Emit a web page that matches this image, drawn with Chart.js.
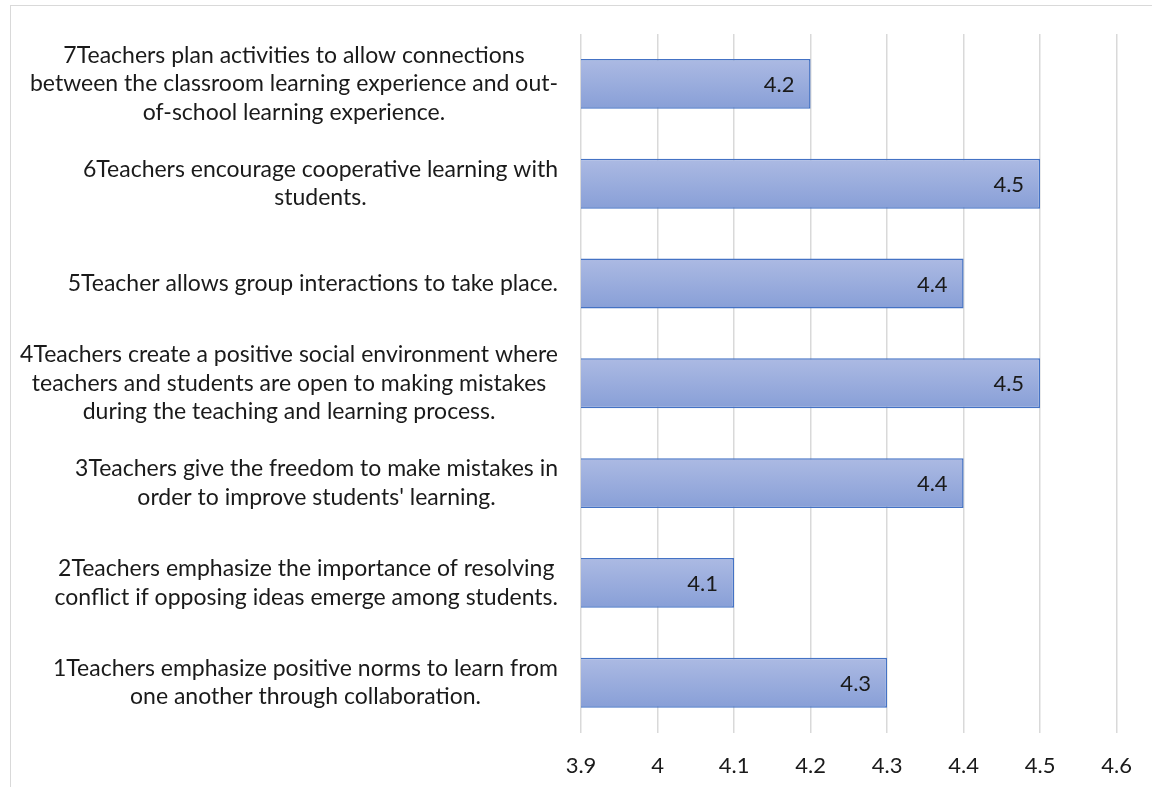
<!DOCTYPE html>
<html lang="en">
<head>
    <meta charset="UTF-8">
    <title>Teacher practices</title>
    <script src="https://cdn.jsdelivr.net/npm/chart.js"></script>
    <style>
        html, body {
            margin: 0;
            padding: 0;
            background: #fff;
            overflow: hidden;
        }
        .frame {
            position: absolute;
            left: 10px;
            top: 5px;
            width: 1300px;
            height: 900px;
            border: 1px solid #d9d9d9;
        }
        .wrap {
            position: absolute;
            left: 0;
            top: 0;
            width: 1152px;
            height: 787px;
        }
    </style>
</head>
<body>
    <div class="frame"></div>
    <div class="wrap"><canvas id="chart"></canvas></div>

    <script>
        // categories, top to bottom as shown
        const categories = [
            ['7Teachers plan activities to allow connections', 'between the classroom learning experience and out-', 'of-school learning experience.'],
            ['6Teachers encourage cooperative learning with', 'students.'],
            ['5Teacher allows group interactions to take place.'],
            ['4Teachers create a positive social environment where', 'teachers and students are open to making mistakes', 'during the teaching and learning process.'],
            ['3Teachers give the freedom to make mistakes in', 'order to improve students\' learning.'],
            ['2Teachers emphasize the importance of resolving', 'conflict if opposing ideas emerge among students.'],
            ['1Teachers emphasize positive norms to learn from', 'one another through collaboration.']
        ];
        const values = [4.2, 4.5, 4.4, 4.5, 4.4, 4.1, 4.3];
        const axisMin = 3.9;
        const axisMax = 4.6;
        const axisStep = 0.1;

        const FONT = 'Lato';
        const textColor = '#1a1a1a';

        // gradient per bar, top light to bottom darker
        function barFill(ctx) {
            const chart = ctx.chart;
            const ys = chart.scales.y;
            if (!ys || ctx.dataIndex == null) return '#9aaddd';
            const c = ys.getPixelForValue(ctx.dataIndex);
            const half = ys.height / categories.length / 4;
            if (!isFinite(c) || !isFinite(half)) return '#9aaddd';
            const g = chart.ctx.createLinearGradient(0, c - half, 0, c + half);
            g.addColorStop(0, '#acbae3');
            g.addColorStop(1, '#889fd7');
            return g;
        }

        // category labels: block right-aligned, lines centred inside block
        const categoryLabels = {
            id: 'categoryLabels',
            afterDraw(chart) {
                const ctx = chart.ctx;
                const ys = chart.scales.y;
                const right = chart.chartArea.left - 23;
                const lineH = 28.5;
                ctx.save();
                ctx.font = '23px ' + FONT;
                ctx.fillStyle = textColor;
                ctx.textAlign = 'center';
                ctx.textBaseline = 'middle';
                categories.forEach((lines, i) => {
                    const w = Math.max(...lines.map(l => ctx.measureText(l).width));
                    const cx = right - w / 2;
                    const cy = ys.getPixelForValue(i);
                    const top = cy - (lines.length - 1) * lineH / 2;
                    lines.forEach((l, k) => ctx.fillText(l, cx, top + k * lineH));
                });
                ctx.restore();
            }
        };

        // value labels inside end of bars
        const valueLabels = {
            id: 'valueLabels',
            afterDatasetsDraw(chart) {
                const ctx = chart.ctx;
                const meta = chart.getDatasetMeta(0);
                ctx.save();
                ctx.font = '22px ' + FONT;
                ctx.fillStyle = textColor;
                ctx.textAlign = 'right';
                ctx.textBaseline = 'middle';
                meta.data.forEach((bar, i) => {
                    ctx.fillText(String(values[i]), bar.x - 16, bar.y + 1);
                });
                ctx.restore();
            }
        };

        new Chart(document.getElementById('chart'), {
            type: 'bar',
            data: {
                labels: categories,
                datasets: [{
                    data: values,
                    backgroundColor: barFill,
                    borderColor: '#4472c4',
                    borderWidth: 1.5,
                    borderSkipped: 'start',
                    categoryPercentage: 1,
                    barPercentage: 0.5
                }]
            },
            options: {
                indexAxis: 'y',
                responsive: true,
                maintainAspectRatio: false,
                animation: false,
                layout: {
                    padding: { left: 581, right: 34, top: 34, bottom: -12 }
                },
                plugins: {
                    legend: { display: false },
                    tooltip: { enabled: false }
                },
                scales: {
                    x: {
                        min: axisMin,
                        max: axisMax,
                        grid: { color: '#d9d9d9', lineWidth: 1.5, drawTicks: false },
                        border: { display: false },
                        ticks: {
                            stepSize: axisStep,
                            padding: 20,
                            color: textColor,
                            font: { family: FONT, size: 22 },
                            callback: v => String(Number(v.toFixed(1)))
                        }
                    },
                    y: {
                        display: false
                    }
                }
            },
            plugins: [categoryLabels, valueLabels]
        });
    </script>
</body>
</html>
